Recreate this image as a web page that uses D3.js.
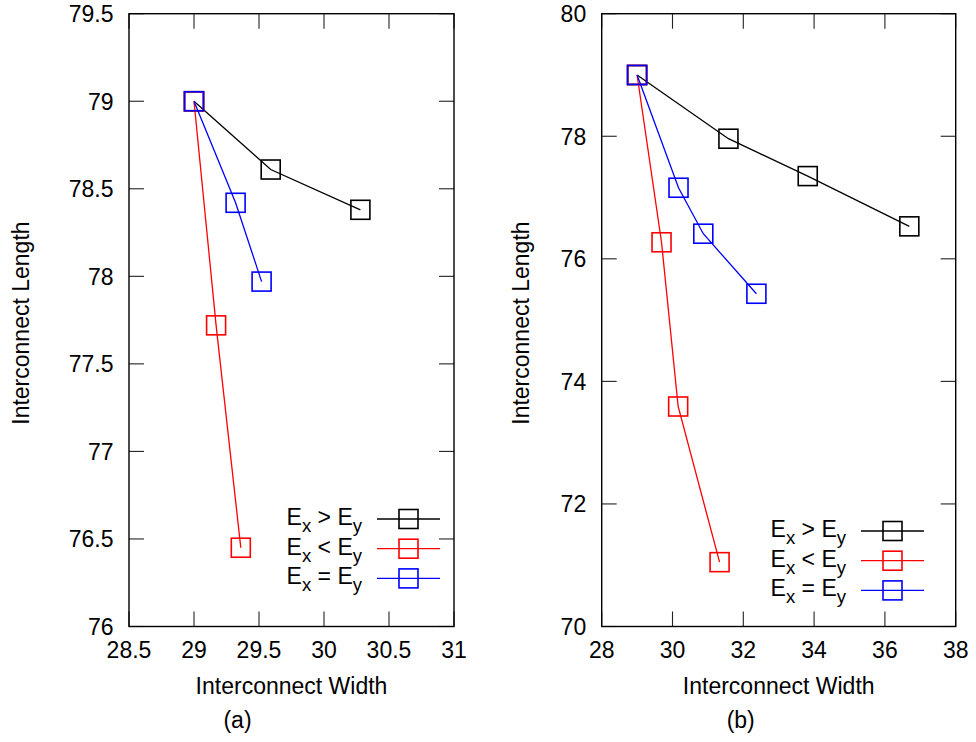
<!DOCTYPE html>
<html>
<head>
<meta charset="utf-8">
<script src="https://cdn.jsdelivr.net/npm/d3@7/dist/d3.min.js"></script>
<style>
  html, body { margin: 0; padding: 0; background: #fff; }
  svg { display: block; }
  text { font-family: "Liberation Sans", Arial, Helvetica, sans-serif; fill: #000; }
</style>
</head>
<body>
<svg id="chart" width="976" height="742"></svg>
<script>
// Panel (a): interconnect width vs length for the three E_x / E_y relations
const aGtWidth  = [29, 29.59, 30.28];
const aGtLength = [79, 78.61, 78.38];
const aLtWidth  = [29, 29.17, 29.36];
const aLtLength = [79, 77.72, 76.45];
const aEqWidth  = [29, 29.32, 29.52];
const aEqLength = [79, 78.42, 77.97];

// Panel (b)
const bGtWidth  = [29, 31.58, 33.82, 36.69];
const bGtLength = [79, 77.96, 77.35, 76.53];
const bLtWidth  = [29, 29.69, 30.16, 31.33];
const bLtLength = [79, 76.27, 73.59, 71.05];
const bEqWidth  = [29, 30.17, 30.87, 32.37];
const bEqLength = [79, 77.16, 76.41, 75.43];

// Tick values
const aXTicks = [28.5, 29, 29.5, 30, 30.5, 31];
const aYTicks = [76, 76.5, 77, 77.5, 78, 78.5, 79, 79.5];
const bXTicks = [28, 30, 32, 34, 36, 38];
const bYTicks = [70, 72, 74, 76, 78, 80];

// Legend entries: relation symbol between E_x and E_y
const legendOps = [">", "<", "="];
const seriesColors = ["#000000", "#ff0000", "#0000ff"];

const xLabel = "Interconnect Width";
const yLabel = "Interconnect Length";
const captions = ["(a)", "(b)"];

const svg = d3.select("#chart");
const FONT = 23;
const SUB = 18.5;
const TICK = 15;
const MARK = 19;

function zip(w, l) { return w.map((v, i) => ({ x: v, y: l[i] })); }

function drawPanel(cfg) {
  const g = svg.append("g");
  const x = d3.scaleLinear().domain(cfg.xDomain).range([cfg.left, cfg.right]);
  const y = d3.scaleLinear().domain(cfg.yDomain).range([cfg.bottom, cfg.top]);

  // inward ticks on all four sides
  const tickStyle = s => s.attr("stroke", "#222").attr("stroke-width", 1.1);
  cfg.xTicks.forEach(t => {
    g.append("line").attr("x1", x(t)).attr("x2", x(t))
      .attr("y1", cfg.bottom).attr("y2", cfg.bottom - TICK).call(tickStyle);
    g.append("line").attr("x1", x(t)).attr("x2", x(t))
      .attr("y1", cfg.top).attr("y2", cfg.top + TICK).call(tickStyle);
    g.append("text").attr("x", x(t)).attr("y", cfg.bottom + 31)
      .attr("text-anchor", "middle").attr("font-size", FONT)
      .text(d3.format("")(t));
  });
  cfg.yTicks.forEach(t => {
    g.append("line").attr("x1", cfg.left).attr("x2", cfg.left + TICK)
      .attr("y1", y(t)).attr("y2", y(t)).call(tickStyle);
    g.append("line").attr("x1", cfg.right).attr("x2", cfg.right - TICK)
      .attr("y1", y(t)).attr("y2", y(t)).call(tickStyle);
    g.append("text").attr("x", cfg.left - 15.5).attr("y", y(t) + 8.3)
      .attr("text-anchor", "end").attr("font-size", FONT)
      .text(d3.format("")(t));
  });

  // frame
  g.append("rect").attr("x", cfg.left).attr("y", cfg.top)
    .attr("width", cfg.right - cfg.left).attr("height", cfg.bottom - cfg.top)
    .attr("fill", "none").attr("stroke", "#000").attr("stroke-width", 1.4);

  // axis titles
  g.append("text").attr("x", (cfg.left + cfg.right) / 2).attr("y", 694)
    .attr("text-anchor", "middle").attr("font-size", FONT).text(xLabel);
  g.append("text")
    .attr("transform", `translate(${cfg.yLabelX + 8},${(cfg.top + cfg.bottom) / 2 + 3}) rotate(-90)`)
    .attr("text-anchor", "middle").attr("font-size", FONT).text(yLabel);
  g.append("text").attr("x", (cfg.left + cfg.right) / 2 - 54 + (cfg.captionShift || 0)).attr("y", 728)
    .attr("text-anchor", "middle").attr("font-size", FONT).text(cfg.caption);

  // series
  const line = d3.line().x(d => x(d.x)).y(d => y(d.y));
  cfg.series.forEach((s, i) => {
    const pts = zip(s.w, s.l);
    g.append("path").datum(pts).attr("d", line)
      .attr("fill", "none").attr("stroke", seriesColors[i]).attr("stroke-width", 1.3);
    g.selectAll(null).data(pts).enter().append("rect")
      .attr("x", d => x(d.x) - MARK / 2).attr("y", d => y(d.y) - MARK / 2)
      .attr("width", MARK).attr("height", MARK)
      .attr("fill", "none").attr("stroke", seriesColors[i]).attr("stroke-width", 1.6);
  });

  // legend
  legendOps.forEach((op, i) => {
    const ry = cfg.legendY + i * 29.7;
    const t = g.append("text").attr("x", cfg.legendTextX).attr("y", ry + 6)
      .attr("text-anchor", "end").attr("font-size", FONT);
    t.append("tspan").text("E");
    t.append("tspan").attr("font-size", SUB).attr("dy", 6.8).text("x");
    t.append("tspan").attr("dy", -6.8).text(` ${op} E`);
    t.append("tspan").attr("font-size", SUB).attr("dy", 6.8).text("y");
    g.append("line").attr("x1", cfg.legendLineX).attr("x2", cfg.legendLineX + 63)
      .attr("y1", ry).attr("y2", ry)
      .attr("stroke", seriesColors[i]).attr("stroke-width", 1.3);
    g.append("rect").attr("x", cfg.legendLineX + 31.5 - MARK / 2).attr("y", ry - MARK / 2)
      .attr("width", MARK).attr("height", MARK)
      .attr("fill", "none").attr("stroke", seriesColors[i]).attr("stroke-width", 1.6);
  });
}

drawPanel({
  left: 129, right: 454, top: 13.7, bottom: 626.5,
  xDomain: [28.5, 31], yDomain: [76, 79.5],
  xTicks: aXTicks, yTicks: aYTicks,
  yLabelX: 20.5, caption: captions[0],
  series: [
    { w: aGtWidth, l: aGtLength },
    { w: aLtWidth, l: aLtLength },
    { w: aEqWidth, l: aEqLength }
  ],
  legendY: 519, legendTextX: 362, legendLineX: 377
});

drawPanel({
  left: 601.7, right: 955.7, top: 13.7, bottom: 626.5,
  xDomain: [28, 38], yDomain: [70, 80],
  xTicks: bXTicks, yTicks: bYTicks,
  yLabelX: 520.5, caption: captions[1], captionShift: 16,
  series: [
    { w: bGtWidth, l: bGtLength },
    { w: bLtWidth, l: bLtLength },
    { w: bEqWidth, l: bEqLength }
  ],
  legendY: 531, legendTextX: 846, legendLineX: 861
});
</script>
</body>
</html>
